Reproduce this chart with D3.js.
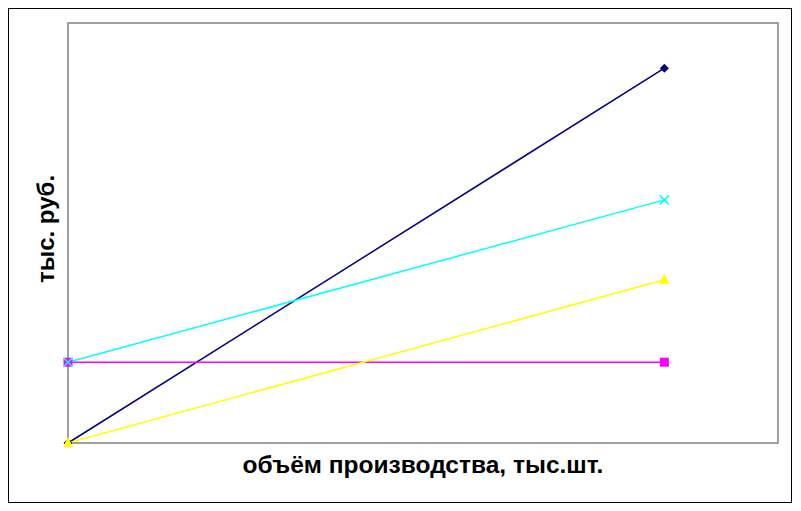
<!DOCTYPE html>
<html><head><meta charset="utf-8">
<script src="https://cdn.jsdelivr.net/npm/d3@7"></script>
<style>body{margin:0;background:#fff}svg{display:block}</style>
</head><body>
<svg id="c" width="801" height="511"></svg>
<script>
const xValues = [0, 21];
const revenue = [0, 464];
const fixedCosts = [100, 100];
const totalCosts = [100, 301];
const variableCosts = [0, 202];
const xTitle = "объём производства, тыс.шт.";
const yTitle = "тыс. руб.";

const series = [
  {name: "revenue", values: revenue, color: "#000080", symbol: "diamond"},
  {name: "fixed", values: fixedCosts, color: "#FF00FF", symbol: "square"},
  {name: "variable", values: variableCosts, color: "#FFFF00", symbol: "triangle"},
  {name: "total", values: totalCosts, color: "#00FFFF", symbol: "x"}
];

const svg = d3.select("#c");
svg.append("rect").attr("x", 8.5).attr("y", 8.5).attr("width", 783).attr("height", 494)
  .attr("fill", "#fff").attr("stroke", "#000").attr("stroke-width", 1);

const m = {l: 68, t: 23, r: 778, b: 443};
const x = d3.scaleLinear().domain([0, 25]).range([m.l, m.r]);
const y = d3.scaleLinear().domain([0, 520]).range([m.b, m.t]);

svg.append("rect").attr("x", m.l).attr("y", m.t).attr("width", m.r - m.l).attr("height", m.b - m.t)
  .attr("fill", "none").attr("stroke", "#808080").attr("stroke-width", 1.5);

const line = d3.line().x((d, i) => x(xValues[i])).y(d => y(d));

series.forEach(s => {
  svg.append("path").datum(s.values).attr("d", line)
    .attr("fill", "none").attr("stroke", s.color).attr("stroke-width", 1.5);
});
function markerPath(t, cx, cy) {
  const r = 4.5;
  if (t === "diamond") return `M${cx},${cy-r}L${cx+r},${cy}L${cx},${cy+r}L${cx-r},${cy}Z`;
  if (t === "square") return `M${cx-4.5},${cy-4.5}h9v9h-9Z`;
  if (t === "triangle") return `M${cx},${cy-6}L${cx+5},${cy+4}L${cx-5},${cy+4}Z`;
  return `M${cx-4.5},${cy-4.5}L${cx+4.5},${cy+4.5}M${cx-4.5},${cy+4.5}L${cx+4.5},${cy-4.5}`;
}
series.forEach(s => {
  s.values.forEach((v, i) => {
    const p = svg.append("path").attr("d", markerPath(s.symbol, x(xValues[i]), y(v)));
    if (s.symbol === "x") p.attr("stroke", s.color).attr("stroke-width", 1.5).attr("fill", "none");
    else p.attr("fill", s.color);
  });
});

svg.append("text").attr("x", 423).attr("y", 473).attr("text-anchor", "middle")
  .attr("font-family", "Liberation Sans, Arial, sans-serif").attr("font-weight", "bold")
  .attr("font-size", 24.5).text(xTitle);
svg.append("text").attr("transform", "translate(54,229) rotate(-90)").attr("text-anchor", "middle")
  .attr("font-family", "Liberation Sans, Arial, sans-serif").attr("font-weight", "bold")
  .attr("font-size", 24).text(yTitle);
</script>
</body></html>
